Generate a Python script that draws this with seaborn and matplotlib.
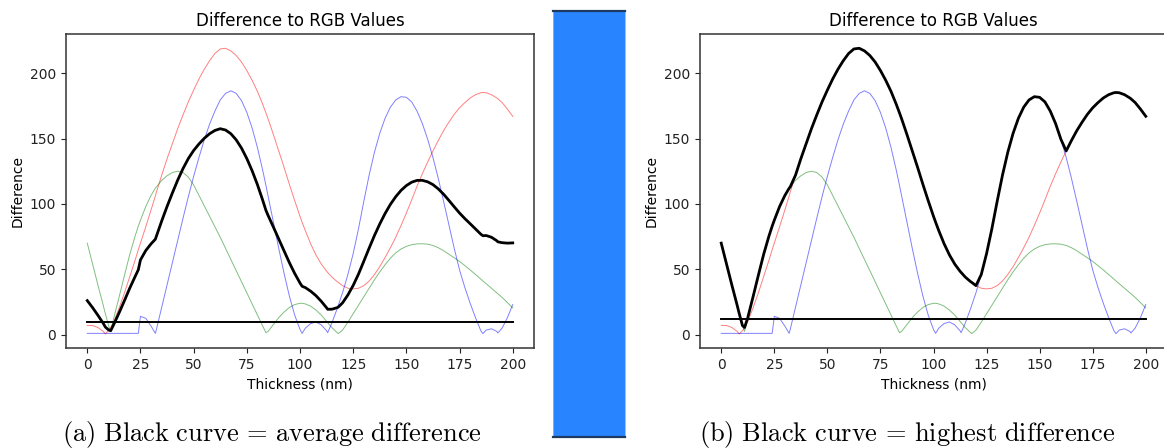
import numpy as np
import pandas as pd
import matplotlib
matplotlib.use("Agg")
import matplotlib.pyplot as plt
import seaborn as sns

# Film thickness samples (nm)
thickness = [
    0, 2.5, 5, 7.5, 8.5, 10, 11, 12.5, 15, 17.5, 20, 22.5, 24, 25, 27.5, 30, 32, 32.5,
    35, 37.5, 40, 42.5, 45, 47.5, 50, 52.5, 55, 57.5, 60, 62.5, 65, 67.5, 70, 72.5,
    75, 77.5, 80, 82.5, 84, 85, 87.5, 90, 92.5, 95, 97.5, 100, 101, 102.5, 105, 107.5,
    110, 112.5, 113, 115, 117.5, 118, 120, 122.5, 125, 127.5, 130, 132.5, 135, 137.5,
    140, 142.5, 145, 147.5, 150, 152.5, 155, 157.5, 160, 162.5, 165, 167.5, 170, 172.5,
    175, 177.5, 180, 182.5, 185, 186, 187.5, 190, 192.5, 193, 195, 197.5, 200,
]

# Absolute difference of each channel to the target RGB value
diff_red = [
    7.1, 7, 5.5, 2.5, 0.5, 3, 5.5, 10, 20.5, 32, 44.5, 57, 65, 70, 82.5, 95.5, 106, 109,
    122, 134.5, 146, 157.5, 168, 178, 187, 195.5, 203, 209.5, 215, 218.5, 219, 217, 213.5, 208.5,
    202, 194.5, 186, 176, 169.5, 165, 153, 140.5, 128, 115, 102.5, 90.5, 86, 79.5, 69.5, 61,
    54, 48.5, 47.6, 44, 40.5, 40, 37.5, 35.5, 35, 35.5, 37.5, 41, 46, 52,
    59, 66.5, 74.5, 83.5, 93, 103, 113.5, 123, 132, 140.5, 148.5, 156, 162.5, 168.5,
    173.5, 177.5, 181, 183.5, 185, 185.2, 185, 183.5, 181, 180.4, 177.5, 172.5, 167,
]
diff_green = [
    70, 54, 38, 22.5, 16, 7, 2.5, 13, 29, 45.5, 61.5, 75.5, 83, 87.5, 98, 106.5, 112, 113,
    118, 121.5, 124, 125, 124, 120.5, 114.5, 106.5, 98.5, 90.5, 82.5, 74.5, 66, 57.5, 49, 40.5,
    32, 23.5, 15, 6.5, 1.5, 2.5, 7.8, 13, 17.3, 20.8, 23, 24, 24, 23.5, 21.8, 18.8,
    15, 10.2, 9.2, 5.4, 1.5, 0.8, 3.5, 9.5, 16, 22.5, 29, 35.5, 42, 48,
    53.5, 58.5, 62.5, 65.5, 67.5, 68.8, 69.4, 69.5, 69.2, 68.2, 66.5, 64.2, 61.5, 58.8,
    56, 52.8, 49.5, 46, 42.5, 41, 39, 35.5, 32, 31.3, 28.5, 24.5, 20.5,
]
diff_blue = [
    1, 1, 1, 1, 1, 1, 1, 1, 1, 1, 1, 1, 1, 14, 12.5, 6.5, 1, 4,
    21, 38, 55, 72, 89, 105.5, 121, 135.5, 149, 161, 171, 179.5, 184.5, 186.5, 184.5, 179,
    170, 158, 143, 125.5, 114, 106, 86, 66, 47, 29.5, 15, 4, 1, 5, 8.5, 9.7,
    7.5, 3, 1.5, 9, 20, 22.5, 32, 46, 62, 81, 102, 122, 139.5, 154,
    165.5, 174, 179.5, 182, 181.5, 178, 171, 161.5, 149.5, 135.5, 119.5, 102, 84, 66,
    49.5, 36, 24, 13, 3, 0.8, 3.5, 4.5, 2.5, 1.3, 5, 13, 23,
]

# Acceptance thresholds drawn as horizontal lines
threshold_avg = 9.5
threshold_max = 12.0

titles = ["Difference to RGB Values", "Difference to RGB Values"]
captions = [r"$\mathrm{(a)\ Black\ curve\,=\,average\ difference}$",
            r"$\mathrm{(b)\ Black\ curve\,=\,highest\ difference}$"]

df = pd.DataFrame({"thickness": thickness, "red": diff_red,
                   "green": diff_green, "blue": diff_blue})
df["average"] = df[["red", "green", "blue"]].mean(axis=1)
df["highest"] = df[["red", "green", "blue"]].max(axis=1)

plt.rcParams.update({
    "font.family": ["DejaVu Sans"],
    "mathtext.fontset": "cm",
    "axes.edgecolor": "#333333",
    "axes.linewidth": 1.1,
    "xtick.color": "#222222",
    "ytick.color": "#222222",
})

W, H = 1164, 448
fig = plt.figure(figsize=(W / 100, H / 100), dpi=100)

ax_a = fig.add_axes([66 / W, 1 - 348.3 / H, 468 / W, 314.3 / H])
ax_b = fig.add_axes([700 / W, 1 - 348.3 / H, 467 / W, 314.3 / H])


def draw_panel(ax, black_col, threshold, title):
    for col, c in (("red", "red"), ("green", "green"), ("blue", "blue")):
        sns.lineplot(data=df, x="thickness", y=col, ax=ax, color=c,
                     linewidth=0.7, alpha=0.5, errorbar=None, sort=False)
    sns.lineplot(data=df, x="thickness", y=black_col, ax=ax, color="black",
                 linewidth=2.0, errorbar=None, sort=False)
    sns.lineplot(x=[thickness[0], thickness[-1]], y=[threshold, threshold], ax=ax,
                 color="black", linewidth=1.4, errorbar=None)
    ax.set_title(title, fontsize=12)
    ax.set_xlabel("Thickness (nm)", fontsize=10)
    ax.set_ylabel("Difference", fontsize=10)
    ax.set_xticks([0, 25, 50, 75, 100, 125, 150, 175, 200])
    ax.set_yticks([0, 50, 100, 150, 200])
    ax.tick_params(labelsize=10)


draw_panel(ax_a, "average", threshold_avg, titles[0])
draw_panel(ax_b, "highest", threshold_max, titles[1])

# Colour swatch between the two panels
ax_sw = fig.add_axes([553.3 / W, 11 / H, 71.7 / W, 426 / H])
ax_sw.set_facecolor("#2884FF")
ax_sw.set_xticks([])
ax_sw.set_yticks([])
for side in ("top", "bottom"):
    ax_sw.spines[side].set_color("#1d3a63")
    ax_sw.spines[side].set_linewidth(1.6)
for side in ("left", "right"):
    ax_sw.spines[side].set_color("#a8b2c2")
    ax_sw.spines[side].set_linewidth(0.6)

fig.text(272 / W, 0.016, captions[0], ha="center", va="baseline", fontsize=19)
fig.text(907 / W, 0.016, captions[1], ha="center", va="baseline", fontsize=19)

fig.savefig("out.png", dpi=100)
